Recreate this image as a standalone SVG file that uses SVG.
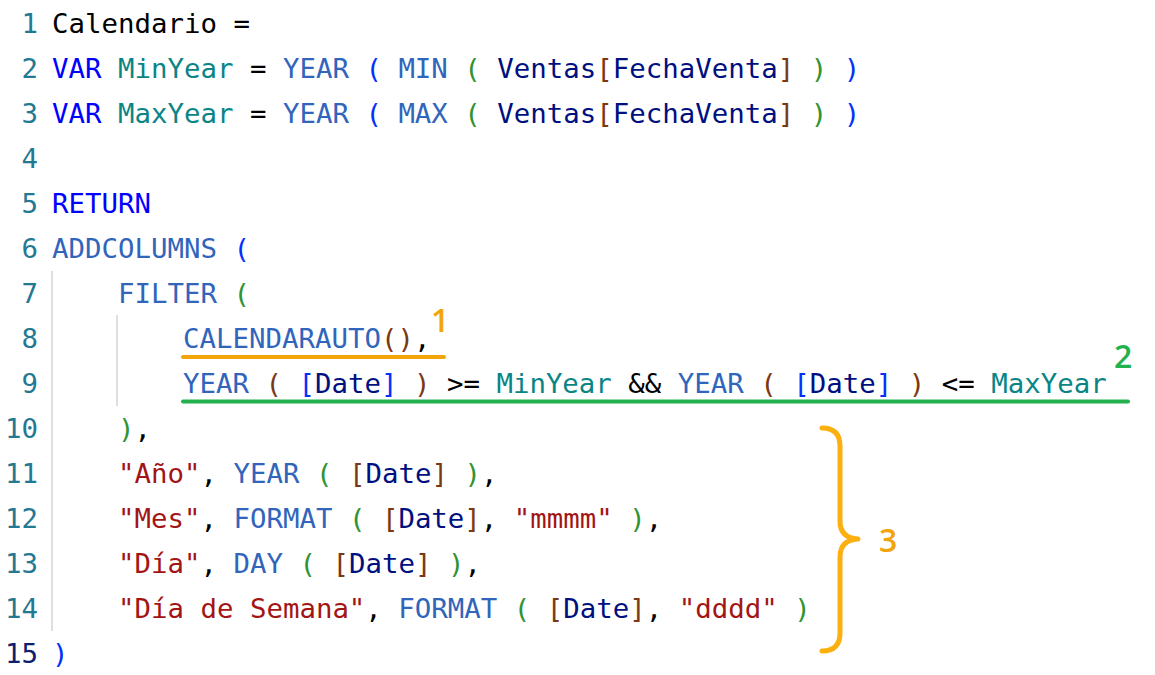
<svg xmlns="http://www.w3.org/2000/svg" width="1155" height="675" viewBox="0 0 1155 675">
<style>
.code{font-family:"DejaVu Sans Mono","Liberation Mono",monospace;font-size:27.4px;fill:#000}
.ln{font-family:"DejaVu Sans Mono","Liberation Mono",monospace;font-size:27.4px;fill:#237893;text-anchor:end}
.act{fill:#0B216F}
.kw{fill:#0000FF}
.fn{fill:#3165BB}
.var{fill:#098586}
.col{fill:#001080}
.str{fill:#A31515}
.b1{fill:#0431FA}
.b2{fill:#319331}
.b3{fill:#7B3814}
.guide{stroke:#d4d4d4;stroke-width:1.5}
.lbl{font-family:"Open Sans","Liberation Sans",sans-serif;font-size:32px;font-weight:600}
</style>
<rect width="1155" height="675" fill="#ffffff"/>
<g id="indent-guides">
<line class="guide" x1="52" y1="271" x2="52" y2="631"/>
<line class="guide" x1="117" y1="315" x2="117" y2="406" stroke="#e2e2e2"/>
</g>
<g id="line-numbers">
<text class="ln" x="38" y="33">1</text>
<text class="ln" x="38" y="78">2</text>
<text class="ln" x="38" y="123">3</text>
<text class="ln" x="38" y="168">4</text>
<text class="ln" x="38" y="213">5</text>
<text class="ln" x="38" y="258">6</text>
<text class="ln" x="38" y="303">7</text>
<text class="ln" x="38" y="348">8</text>
<text class="ln" x="38" y="393">9</text>
<text class="ln" x="38" y="438">10</text>
<text class="ln" x="38" y="483">11</text>
<text class="ln" x="38" y="528">12</text>
<text class="ln" x="38" y="573">13</text>
<text class="ln" x="38" y="618">14</text>
<text class="ln act" x="38" y="663">15</text>
</g>
<g id="code">
<text class="code" x="52" y="33" xml:space="preserve">Calendario =</text>
<text class="code" x="52" y="78" xml:space="preserve"><tspan class="kw">VAR</tspan> <tspan class="var">MinYear</tspan> = <tspan class="fn">YEAR</tspan> <tspan class="b1">(</tspan> <tspan class="fn">MIN</tspan> <tspan class="b2">(</tspan> <tspan class="col">Ventas</tspan><tspan class="b3">[</tspan><tspan class="col">FechaVenta</tspan><tspan class="b3">]</tspan> <tspan class="b2">)</tspan> <tspan class="b1">)</tspan></text>
<text class="code" x="52" y="123" xml:space="preserve"><tspan class="kw">VAR</tspan> <tspan class="var">MaxYear</tspan> = <tspan class="fn">YEAR</tspan> <tspan class="b1">(</tspan> <tspan class="fn">MAX</tspan> <tspan class="b2">(</tspan> <tspan class="col">Ventas</tspan><tspan class="b3">[</tspan><tspan class="col">FechaVenta</tspan><tspan class="b3">]</tspan> <tspan class="b2">)</tspan> <tspan class="b1">)</tspan></text>
<text class="code" x="52" y="213" xml:space="preserve"><tspan class="kw">RETURN</tspan></text>
<text class="code" x="52" y="258" xml:space="preserve"><tspan class="fn">ADDCOLUMNS</tspan> <tspan class="b1">(</tspan></text>
<text class="code" x="118" y="303" xml:space="preserve"><tspan class="fn">FILTER</tspan> <tspan class="b2">(</tspan></text>
<text class="code" x="183" y="348" xml:space="preserve"><tspan class="fn">CALENDARAUTO</tspan><tspan class="b3">()</tspan>,</text>
<text class="code" x="183" y="393" xml:space="preserve"><tspan class="fn">YEAR</tspan> <tspan class="b3">(</tspan> <tspan class="b1">[</tspan><tspan class="col">Date</tspan><tspan class="b1">]</tspan> <tspan class="b3">)</tspan> &gt;= <tspan class="var">MinYear</tspan> &amp;&amp; <tspan class="fn">YEAR</tspan> <tspan class="b3">(</tspan> <tspan class="b1">[</tspan><tspan class="col">Date</tspan><tspan class="b1">]</tspan> <tspan class="b3">)</tspan> &lt;= <tspan class="var">MaxYear</tspan></text>
<text class="code" x="118" y="438" xml:space="preserve"><tspan class="b2">)</tspan>,</text>
<text class="code" x="118" y="483" xml:space="preserve"><tspan class="str">"Año"</tspan>, <tspan class="fn">YEAR</tspan> <tspan class="b2">(</tspan> <tspan class="b3">[</tspan><tspan class="col">Date</tspan><tspan class="b3">]</tspan> <tspan class="b2">)</tspan>,</text>
<text class="code" x="118" y="528" xml:space="preserve"><tspan class="str">"Mes"</tspan>, <tspan class="fn">FORMAT</tspan> <tspan class="b2">(</tspan> <tspan class="b3">[</tspan><tspan class="col">Date</tspan><tspan class="b3">]</tspan>, <tspan class="str">"mmmm"</tspan> <tspan class="b2">)</tspan>,</text>
<text class="code" x="118" y="573" xml:space="preserve"><tspan class="str">"Día"</tspan>, <tspan class="fn">DAY</tspan> <tspan class="b2">(</tspan> <tspan class="b3">[</tspan><tspan class="col">Date</tspan><tspan class="b3">]</tspan> <tspan class="b2">)</tspan>,</text>
<text class="code" x="118" y="618" xml:space="preserve"><tspan class="str">"Día de Semana"</tspan>, <tspan class="fn">FORMAT</tspan> <tspan class="b2">(</tspan> <tspan class="b3">[</tspan><tspan class="col">Date</tspan><tspan class="b3">]</tspan>, <tspan class="str">"dddd"</tspan> <tspan class="b2">)</tspan></text>
<text class="code" x="52" y="663" xml:space="preserve"><tspan class="b1">)</tspan></text>
</g>
<g id="connectors">
<line id="underline-1" x1="183" y1="357" x2="444" y2="357" stroke="#F2A50A" stroke-width="4" stroke-linecap="round"/>
<line id="underline-2" x1="183" y1="401.5" x2="1128" y2="401.5" stroke="#22B14C" stroke-width="4" stroke-linecap="round"/>
<path id="brace-3" d="M822 428 Q840 428 840 446 L840 521 Q840 538 858 539 Q840 540 840 557 L840 633 Q840 651 822 651" fill="none" stroke="#FBB010" stroke-width="5" stroke-linecap="round" stroke-linejoin="round"/>
</g>
<g id="label-1"><text class="lbl" x="431" y="332" fill="#F2A50A">1</text></g>
<g id="label-2"><text class="lbl" x="1114" y="368" fill="#22B14C">2</text></g>
<g id="label-3"><text class="lbl" x="879" y="552" fill="#F2A50A">3</text></g>
</svg>
